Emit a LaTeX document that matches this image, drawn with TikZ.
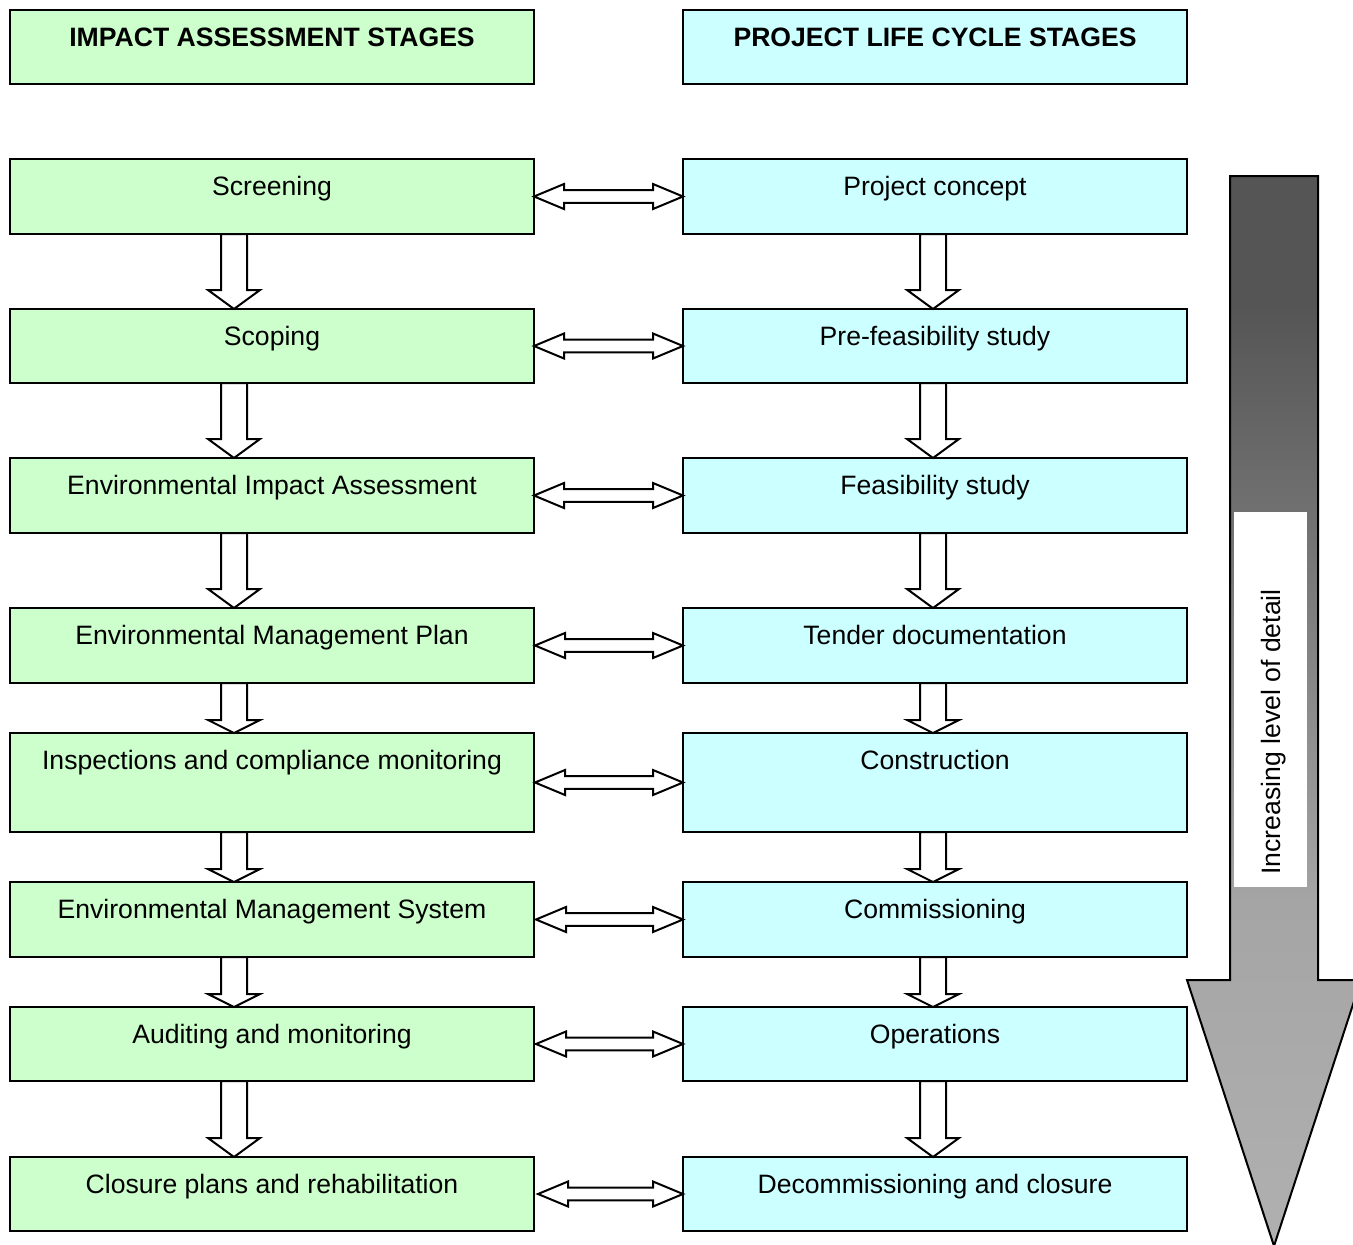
\documentclass[tikz,border=0pt]{standalone}
\usepackage{fontspec}
\setmainfont{Liberation Sans}
\usetikzlibrary{calc}
\definecolor{lgreen}{HTML}{CCFFCC}
\definecolor{lcyan}{HTML}{CCFFFF}
\definecolor{gdark}{HTML}{555555}
\definecolor{gmid}{HTML}{A5A5A5}
\definecolor{glight}{HTML}{B0B0B0}
\pgfdeclareverticalshading{bigarrowshade}{100bp}{color(0bp)=(glight); color(25bp)=(glight); color(41bp)=(gmid); color(69bp)=(gdark); color(100bp)=(gdark)}
\tikzset{
 basebox/.style={draw=black, line width=2pt, inner sep=0pt, outer sep=0pt},
 lbox/.style={basebox, fill=lgreen, minimum width=524pt},
 rbox/.style={basebox, fill=lcyan, minimum width=504pt},
 txt/.style={anchor=base, font=\fontsize{26.6}{32}\selectfont, inner sep=0pt},
 blk/.style={draw=black, fill=white, line width=2pt, line join=miter},
}
\newcommand\vblock[4]{%
 \draw[blk] let \p1=($(#1.south)+(#3,0)$), \p2=($(#2.north)+(#3,0)$) in
 (\x1-13pt,\y1) -- (\x1+13pt,\y1) -- (\x1+13pt,\y2+#4pt) -- (\x1+26pt,\y2+#4pt) -- (\x1,\y2) -- (\x1-26pt,\y2+#4pt) -- (\x1-13pt,\y2+#4pt) -- cycle;}
\newcommand\hblock[3]{%
 \draw[blk] let \p1=($(#1.east)+(#3,0)$), \p2=(#2.west) in
 (\x1,\y1) -- (\x1+30pt,\y1+12.5pt) -- (\x1+30pt,\y1+6.3pt) -- (\x2-30pt,\y1+6.3pt) -- (\x2-30pt,\y1+12.5pt) -- (\x2,\y1) -- (\x2-30pt,\y1-12.5pt) -- (\x2-30pt,\y1-6.3pt) -- (\x1+30pt,\y1-6.3pt) -- (\x1+30pt,\y1-12.5pt) -- cycle;}
\begin{document}
\begin{tikzpicture}[x=1pt,y=-1pt]
\useasboundingbox (0,0) rectangle (1353,1245);
% headers
\node[lbox, anchor=north, minimum height=74pt] (LH) at (272,10) {};
\node[rbox, anchor=north, minimum height=74pt] (RH) at (935,10) {};
\node[txt, font=\fontsize{26.6}{32}\selectfont\bfseries] (LHt) at ($(LH.north)+(0,36)$) {IMPACT ASSESSMENT STAGES};
\node[txt, font=\fontsize{26.6}{32}\selectfont\bfseries] (RHt) at ($(RH.north)+(0,36)$) {PROJECT LIFE CYCLE STAGES};
% rows
\foreach \i/\t/\b/\lt/\rt in {
 1/159/234/Screening/Project concept,
 2/309/383/Scoping/Pre-feasibility study,
 3/458/533/Environmental Impact Assessment/Feasibility study,
 4/608/683/Environmental Management Plan/Tender documentation,
 5/733/832/Inspections and compliance monitoring/Construction,
 6/882/957/Environmental Management System/Commissioning,
 7/1007/1081/Auditing and monitoring/Operations,
 8/1157/1231/Closure plans and rehabilitation/Decommissioning and closure}{
 \pgfmathsetmacro\h{\b-\t}
 \node[lbox, anchor=north, minimum height=\h pt] (L\i) at (272,\t) {};
 \node[rbox, anchor=north, minimum height=\h pt] (R\i) at (935,\t) {};
 \node[txt] (Lt\i) at ($(L\i.north)+(0,36)$) {\lt};
 \node[txt] (Rt\i) at ($(R\i.north)+(0,36)$) {\rt};
}
% vertical block arrows
\foreach \a/\b/\hl in {1/2/19,2/3/19,3/4/19,4/5/13,5/6/13,6/7/13,7/8/19}{
 \vblock{L\a}{L\b}{-38}{\hl}
 \vblock{R\a}{R\b}{-2}{\hl}
}
% horizontal double arrows
\foreach \r/\g in {1/0,2/0,3/0,4/1,5/1,6/2,7/2,8/4}{
 \hblock{L\r}{R\r}{\g}
}
% big arrow
\begin{scope}
\clip (0,0) rectangle (1353,1245);
\shade[shading=bigarrowshade, draw=black, line width=2pt, line join=miter]
 (1230,176) -- (1318,176) -- (1318,980) -- (1361,980) -- (1274,1246) -- (1187,980) -- (1230,980) -- cycle;
\end{scope}
\node[fill=white, inner sep=0pt, outer sep=0pt, minimum width=73pt, minimum height=375pt, anchor=north west] (WB) at (1234,512) {};
\node[txt, rotate=90] (LBL) at (1280,732) {Increasing level of detail};
\end{tikzpicture}
\end{document}
